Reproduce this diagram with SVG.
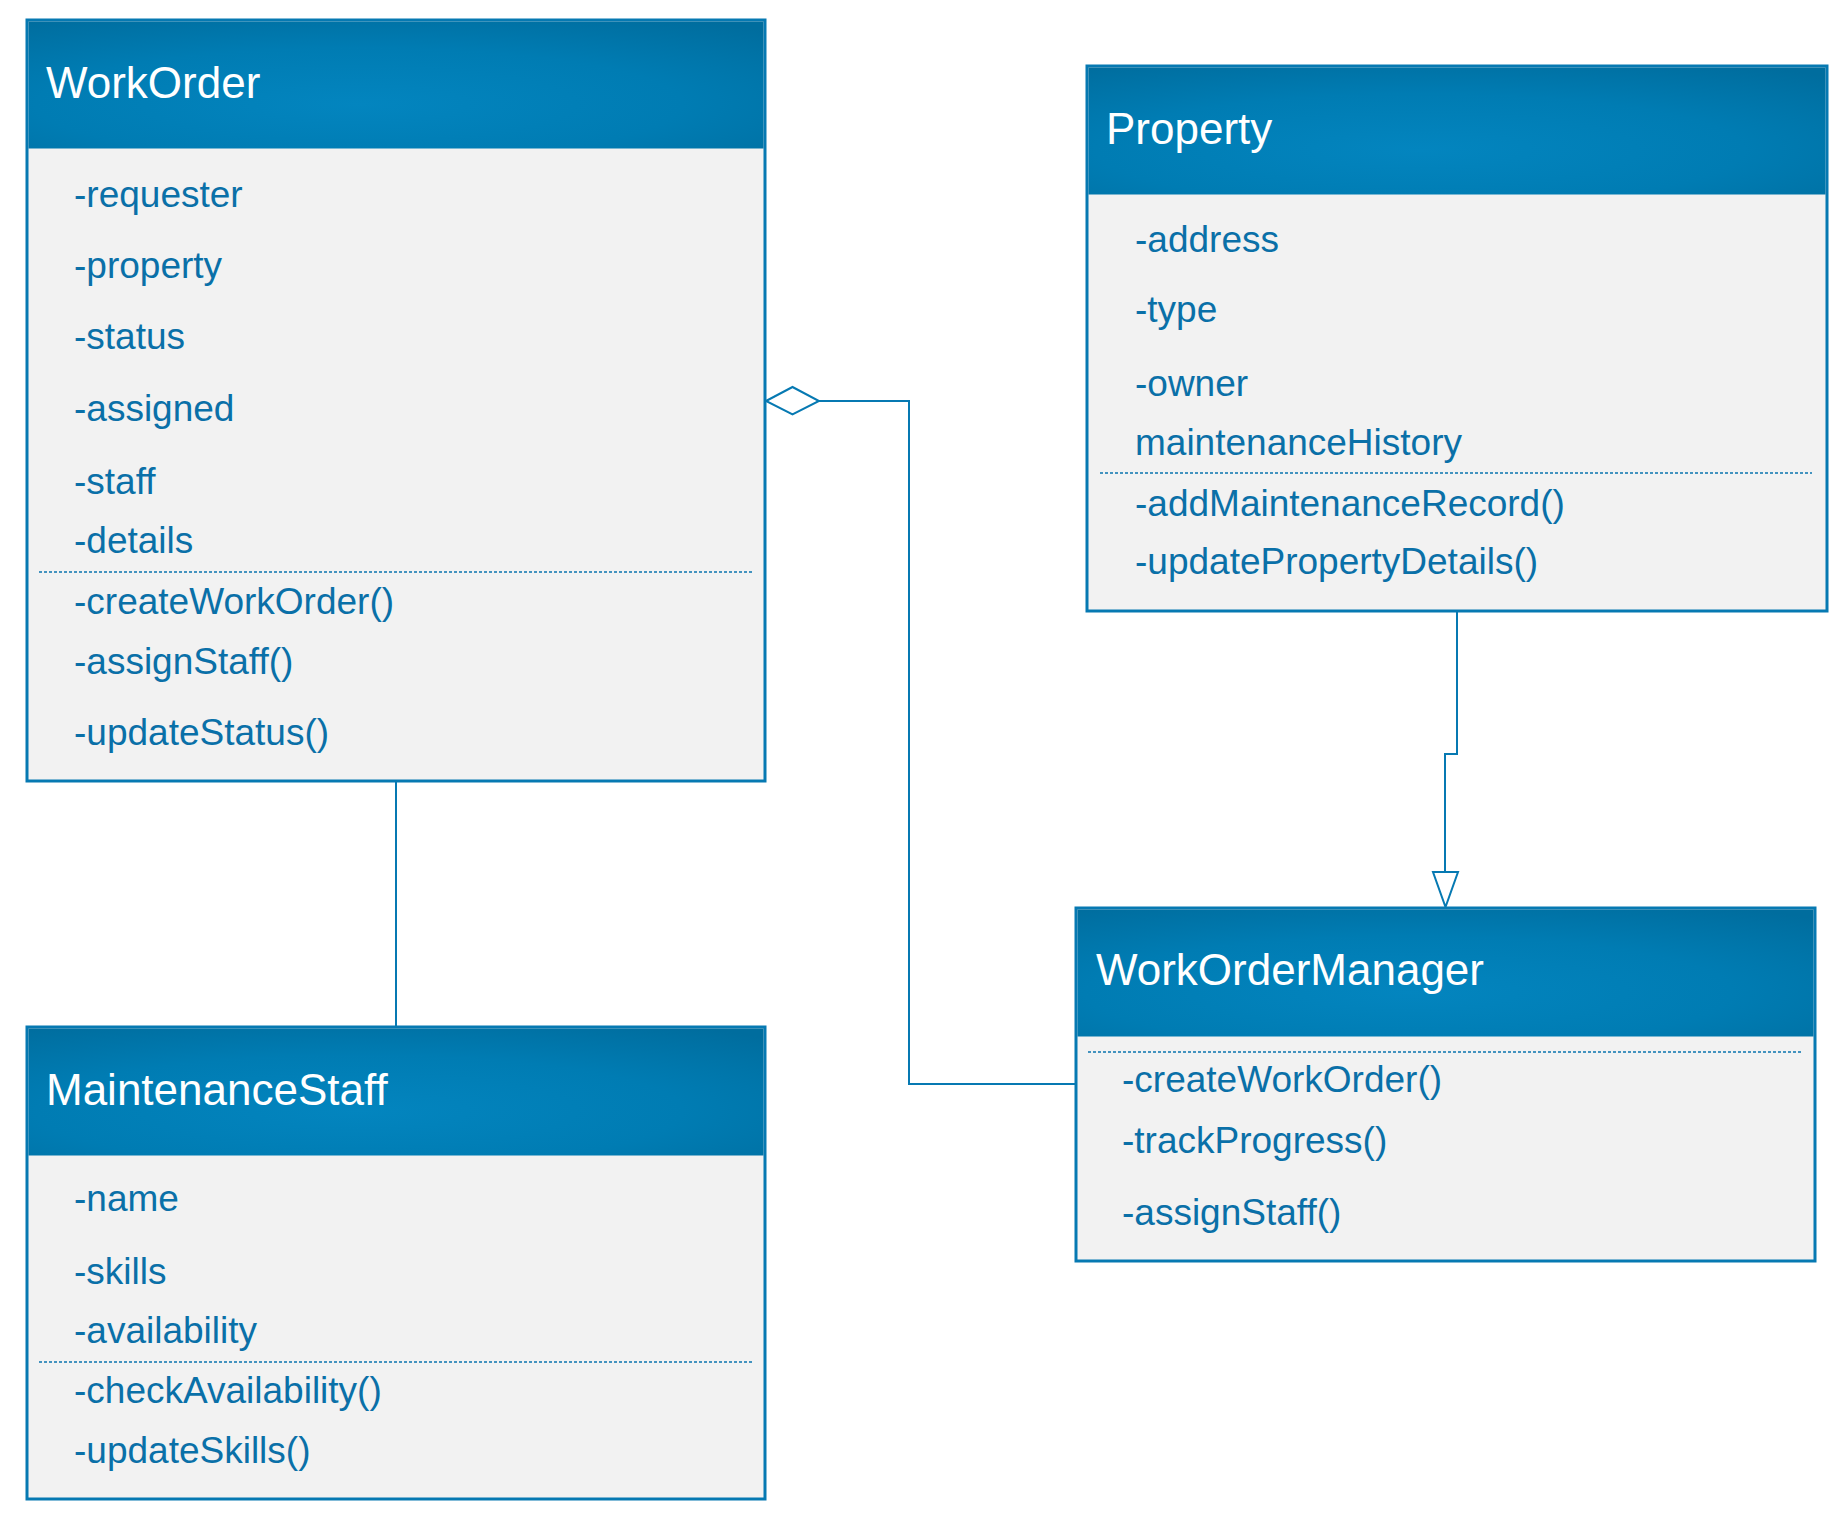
<svg xmlns="http://www.w3.org/2000/svg" width="1847" height="1522" viewBox="0 0 1847 1522">
<style>
.box{fill:#F2F2F2;stroke:#0679B2;stroke-width:3}
.hdr{fill:url(#hg)}
.title{font-family:"Liberation Sans",Arial,sans-serif;font-size:44px;fill:#FFFFFF}
.item{font-family:"Liberation Sans",Arial,sans-serif;font-size:37px;fill:#0A70A8}
.sep{stroke:#0A74AE;stroke-width:1.6;stroke-dasharray:3 2;fill:none}
.conn{stroke:#0679B2;stroke-width:2;fill:none}
</style>
<defs>
<radialGradient id="hg" cx="45%" cy="65%" r="80%" fx="45%" fy="65%">
<stop offset="0" stop-color="#0385BF"/>
<stop offset="0.55" stop-color="#007CB3"/>
<stop offset="1" stop-color="#006D9E"/>
</radialGradient>
</defs>
<rect width="1847" height="1522" fill="#FFFFFF"/>

<g id="connectors">
<line class="conn" x1="396" y1="781" x2="396" y2="1027"/>
<polyline class="conn" points="819,401 909,401 909,1084 1076,1084"/>
<polygon class="conn" points="766,401 792.5,387 819,401 792.5,414.5" style="fill:#FFFFFF"/>
<polyline class="conn" points="1457,611 1457,754 1445,754 1445,872"/>
<polygon class="conn" points="1433,872 1458,872 1445.5,907" style="fill:#FFFFFF"/>
</g>

<g id="WorkOrder">
<rect class="box" x="27" y="20" width="738" height="761"/>
<rect class="hdr" x="28.5" y="21.5" width="735" height="127"/>
<text class="title" x="46" y="98">WorkOrder</text>
<text class="item" x="74" y="207">-requester</text>
<text class="item" x="74" y="278">-property</text>
<text class="item" x="74" y="349">-status</text>
<text class="item" x="74" y="421">-assigned</text>
<text class="item" x="74" y="494">-staff</text>
<text class="item" x="74" y="553">-details</text>
<line class="sep" x1="39" y1="572" x2="753" y2="572"/>
<text class="item" x="74" y="614">-createWorkOrder()</text>
<text class="item" x="74" y="674">-assignStaff()</text>
<text class="item" x="74" y="745">-updateStatus()</text>
</g>

<g id="Property">
<rect class="box" x="1087" y="66" width="740" height="545"/>
<rect class="hdr" x="1088.5" y="67.5" width="737" height="127"/>
<text class="title" x="1106" y="144">Property</text>
<text class="item" x="1135" y="252">-address</text>
<text class="item" x="1135" y="322">-type</text>
<text class="item" x="1135" y="396">-owner</text>
<text class="item" x="1135" y="455">maintenanceHistory</text>
<line class="sep" x1="1100" y1="473" x2="1812" y2="473"/>
<text class="item" x="1135" y="516">-addMaintenanceRecord()</text>
<text class="item" x="1135" y="574">-updatePropertyDetails()</text>
</g>

<g id="WorkOrderManager">
<rect class="box" x="1076" y="908" width="739" height="353"/>
<rect class="hdr" x="1077.5" y="909.5" width="736" height="127"/>
<text class="title" x="1096" y="985">WorkOrderManager</text>
<line class="sep" x1="1088" y1="1052" x2="1801" y2="1052"/>
<text class="item" x="1122" y="1092">-createWorkOrder()</text>
<text class="item" x="1122" y="1153">-trackProgress()</text>
<text class="item" x="1122" y="1225">-assignStaff()</text>
</g>

<g id="MaintenanceStaff">
<rect class="box" x="27" y="1027" width="738" height="472"/>
<rect class="hdr" x="28.5" y="1028.5" width="735" height="127"/>
<text class="title" x="46" y="1105">MaintenanceStaff</text>
<text class="item" x="74" y="1211">-name</text>
<text class="item" x="74" y="1284">-skills</text>
<text class="item" x="74" y="1343">-availability</text>
<line class="sep" x1="39" y1="1362" x2="753" y2="1362"/>
<text class="item" x="74" y="1403">-checkAvailability()</text>
<text class="item" x="74" y="1463">-updateSkills()</text>
</g>
</svg>
